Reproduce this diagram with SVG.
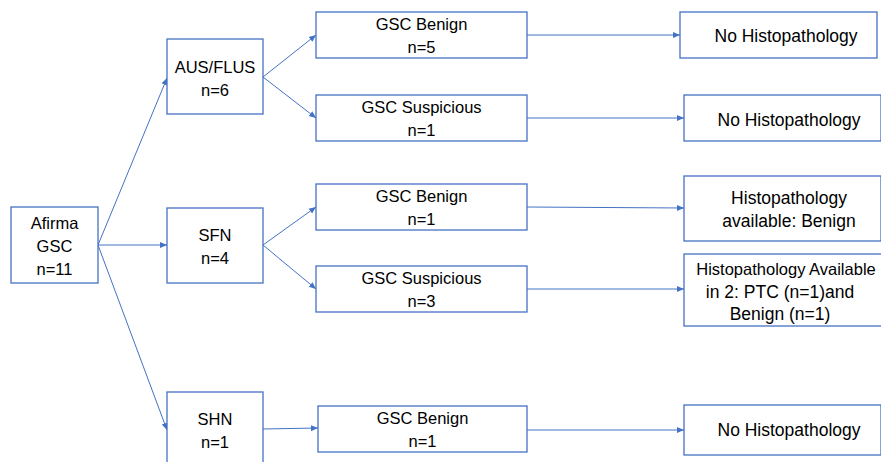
<svg xmlns="http://www.w3.org/2000/svg" width="881" height="462" viewBox="0 0 881 462">
<style>
.box{fill:#fff;stroke:#4472C4;stroke-width:1.3}
.t{font-family:"Liberation Sans",Arial,sans-serif;font-size:16.5px;fill:#000;text-anchor:middle}
.r{font-size:17.5px}
.c{stroke:#4472C4;stroke-width:1;fill:none;marker-end:url(#ah)}
</style>
<defs>
<marker id="ah" markerWidth="8" markerHeight="8" refX="7" refY="4" orient="auto" markerUnits="userSpaceOnUse">
<path d="M0,1 L7,4 L0,7 Z" fill="#4472C4"/>
</marker>
</defs>
<rect width="881" height="462" fill="#fff"/>
<g id="connectors">
<line class="c" x1="98" y1="245" x2="167" y2="78"/>
<line class="c" x1="98" y1="245" x2="167" y2="245"/>
<line class="c" x1="98" y1="245" x2="167" y2="430"/>
<line class="c" x1="263" y1="77" x2="316" y2="35"/>
<line class="c" x1="263" y1="77" x2="316" y2="118"/>
<line class="c" x1="263" y1="245" x2="316" y2="207"/>
<line class="c" x1="263" y1="245" x2="316" y2="289"/>
<line class="c" x1="263" y1="429" x2="318" y2="428"/>
<line class="c" x1="527" y1="35" x2="680" y2="35"/>
<line class="c" x1="527" y1="118" x2="684" y2="118"/>
<line class="c" x1="527" y1="207" x2="684" y2="208"/>
<line class="c" x1="527" y1="289" x2="684" y2="289"/>
<line class="c" x1="527" y1="430" x2="684" y2="430"/>
</g>
<g id="afirma"><rect class="box" x="11" y="207" width="87" height="76"/>
<text class="t" x="54.5" y="229">Afirma</text><text class="t" x="54.5" y="252">GSC</text><text class="t" x="54.5" y="275">n=11</text></g>
<g id="ausflus"><rect class="box" x="167" y="39" width="96" height="75"/>
<text class="t" x="215" y="73">AUS/FLUS</text><text class="t" x="215" y="96">n=6</text></g>
<g id="sfn"><rect class="box" x="167" y="208" width="96" height="75"/>
<text class="t" x="215" y="241">SFN</text><text class="t" x="215" y="264">n=4</text></g>
<g id="shn"><rect class="box" x="167" y="392" width="96" height="75"/>
<text class="t" x="215" y="425">SHN</text><text class="t" x="215" y="448">n=1</text></g>
<g id="gsc-benign-1"><rect class="box" x="316" y="12" width="211" height="46"/>
<text class="t" x="421.5" y="30">GSC Benign</text><text class="t" x="421.5" y="53">n=5</text></g>
<g id="gsc-susp-1"><rect class="box" x="316" y="95" width="211" height="46"/>
<text class="t" x="421.5" y="113">GSC Suspicious</text><text class="t" x="421.5" y="136">n=1</text></g>
<g id="gsc-benign-2"><rect class="box" x="316" y="184" width="211" height="46"/>
<text class="t" x="421.5" y="202">GSC Benign</text><text class="t" x="421.5" y="225">n=1</text></g>
<g id="gsc-susp-2"><rect class="box" x="316" y="266" width="211" height="46"/>
<text class="t" x="421.5" y="284">GSC Suspicious</text><text class="t" x="421.5" y="307">n=3</text></g>
<g id="gsc-benign-3"><rect class="box" x="318" y="406" width="209" height="46"/>
<text class="t" x="422.5" y="424">GSC Benign</text><text class="t" x="422.5" y="447">n=1</text></g>
<g id="nohisto-1"><rect class="box" x="680" y="12" width="197" height="46"/>
<text class="t r" x="786" y="42">No Histopathology</text></g>
<g id="nohisto-2"><rect class="box" x="684" y="95" width="197" height="46"/>
<text class="t r" x="789" y="126">No Histopathology</text></g>
<g id="histo-benign"><rect class="box" x="684" y="176" width="197" height="65"/>
<text class="t r" x="789" y="204">Histopathology</text><text class="t r" x="789" y="227">available: Benign</text></g>
<g id="histo-2"><rect class="box" x="684" y="254" width="200" height="72"/>
<text class="t" x="786" y="275">Histopathology Available</text><text class="t r" x="780" y="298">in 2: PTC (n=1)and</text><text class="t r" x="780" y="320">Benign (n=1)</text></g>
<g id="nohisto-3"><rect class="box" x="684" y="405" width="197" height="50"/>
<text class="t r" x="789" y="436">No Histopathology</text></g>
</svg>
